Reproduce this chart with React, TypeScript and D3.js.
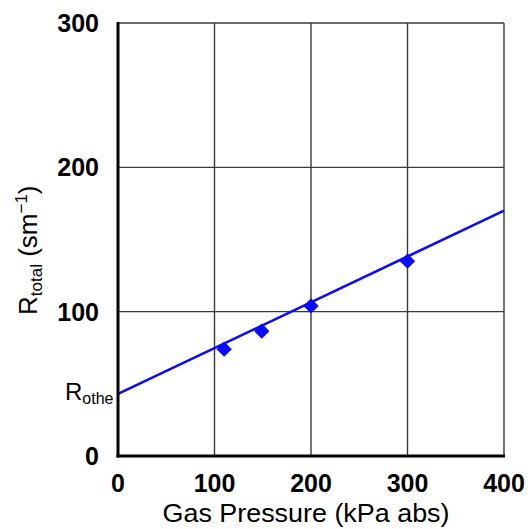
import React from "react";
import * as d3 from "d3";

// Measured points: gas pressure (kPa abs) vs total resistance (s m^-1)
const pressure = [110, 149, 200, 300];
const resistance = [74, 86.5, 104, 135];

// Linear fit drawn across the full pressure range
const fitPressure = [0, 400];
const fitResistance = [43, 170];

const xTicks = [0, 100, 200, 300, 400];
const yTicks = [0, 100, 200, 300];

const W = 530;
const H = 529;
const left = 118;
const right = 504;
const top = 23;
const bottom = 456;

const FONT = "'Liberation Sans', Arial, 'Noto Sans', sans-serif";
const BLUE = "#0a0aff";

export default function App() {
  const x = d3.scaleLinear().domain([0, 400]).range([left, right]);
  const y = d3.scaleLinear().domain([0, 300]).range([bottom, top]);

  const fitLine = d3
    .line<number>()
    .x((d) => x(d))
    .y((_, i) => y(fitResistance[i]))(fitPressure);

  const diamond = d3.symbol().type(d3.symbolDiamond2).size(150)();

  return (
    <div style={{ position: "absolute", left: 0, top: 0 }}>
      <svg width={W} height={H} style={{ display: "block", background: "#fff" }}>
        {/* grid */}
        {xTicks.slice(1).map((t) => (
          <line key={"gx" + t} x1={x(t)} x2={x(t)} y1={top} y2={bottom} stroke="#3a3a3a" strokeWidth={1.4} />
        ))}
        {yTicks.slice(1).map((t) => (
          <line key={"gy" + t} x1={left} x2={right} y1={y(t)} y2={y(t)} stroke="#3a3a3a" strokeWidth={1.4} />
        ))}

        {/* fitted line */}
        <path d={fitLine ?? ""} fill="none" stroke={BLUE} strokeWidth={2.6} />

        {/* markers */}
        {pressure.map((p, i) => (
          <path
            key={"m" + i}
            d={diamond ?? ""}
            transform={`translate(${x(p)},${y(resistance[i])})`}
            fill={BLUE}
          />
        ))}

        {/* axes */}
        <line x1={left} x2={left} y1={top - 1} y2={bottom + 1.5} stroke="#000" strokeWidth={3} />
        <line x1={left - 1.5} x2={right + 1} y1={bottom} y2={bottom} stroke="#000" strokeWidth={3} />

        {/* y tick labels */}
        {yTicks.map((t) => (
          <text
            key={"yl" + t}
            x={99}
            y={y(t)}
            dy="0.36em"
            textAnchor="end"
            fontFamily={FONT}
            fontWeight="bold"
            fontSize={25}
            fill="#000"
          >
            {t}
          </text>
        ))}

        {/* x tick labels */}
        {xTicks.map((t) => (
          <text
            key={"xl" + t}
            x={x(t)}
            y={492}
            textAnchor="middle"
            fontFamily={FONT}
            fontWeight="bold"
            fontSize={25}
            fill="#000"
          >
            {t}
          </text>
        ))}

        {/* intercept label */}
        <text x={65} y={400} fontFamily={FONT} fontSize={24} fill="#000">
          R
          <tspan fontSize={16} dy={4}>
            othe
          </tspan>
        </text>

        {/* x axis title */}
        <text
          x={306}
          y={522}
          textAnchor="middle"
          fontFamily={FONT}
          fontSize={25}
          fill="#000"
          textLength={287}
          lengthAdjust="spacingAndGlyphs"
        >
          Gas Pressure  (kPa abs)
        </text>

        {/* y axis title */}
        <text
          transform="translate(37,315) rotate(-90)"
          fontFamily={FONT}
          fontSize={26}
          fill="#000"
        >
          R
          <tspan fontSize={17} dy={5}>
            total
          </tspan>
          <tspan dy={-5}> (sm</tspan>
          <tspan fontSize={17} dy={-10}>
            −1
          </tspan>
          <tspan dy={10}>)</tspan>
        </text>
      </svg>
    </div>
  );
}
